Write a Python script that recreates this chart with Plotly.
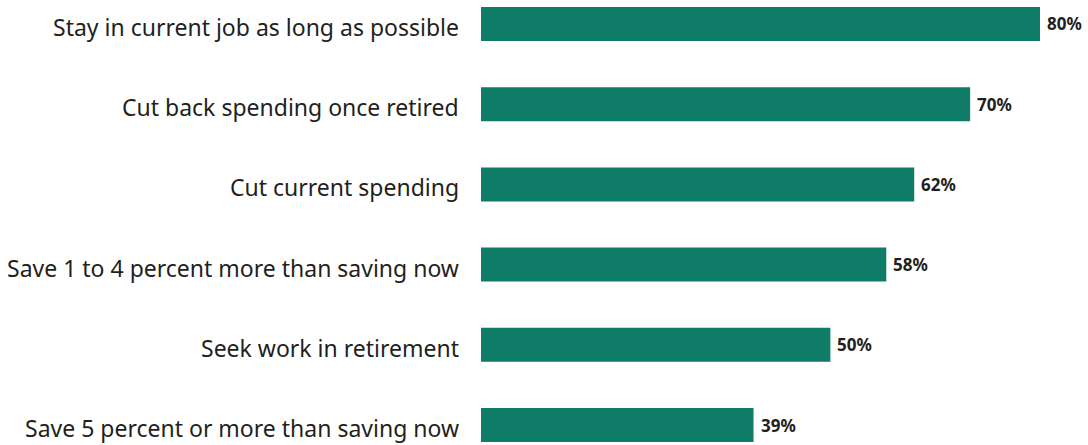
import plotly.graph_objects as go

categories = [
    "Stay in current job as long as possible",
    "Cut back spending once retired",
    "Cut current spending",
    "Save 1 to 4 percent more than saving now",
    "Seek work in retirement",
    "Save 5 percent or more than saving now",
]
values = [80, 70, 62, 58, 50, 39]
value_labels = [f"{v}%" for v in values]

BAR_COLOR = "#0e7c66"
TEXT_COLOR = "#231f20"

fig = go.Figure(
    go.Bar(
        x=values,
        y=categories,
        orientation="h",
        width=0.424,
        marker=dict(color=BAR_COLOR, line=dict(width=0)),
        hoverinfo="x+y",
    )
)

# category names, right-aligned just left of the bars
for cat in categories:
    fig.add_annotation(
        x=0, y=cat, xref="x", yref="y",
        text=cat, showarrow=False,
        xanchor="right", yanchor="middle",
        xshift=-20, yshift=-3,
        font=dict(family="Noto Sans", size=23, color=TEXT_COLOR),
    )

# value labels at the end of each bar
for cat, v, lab in zip(categories, values, value_labels):
    fig.add_annotation(
        x=v, y=cat, xref="x", yref="y",
        text=f"<b>{lab}</b>", showarrow=False,
        xanchor="left", yanchor="middle",
        xshift=5,
        font=dict(family="Noto Sans", size=17, color=TEXT_COLOR),
    )

fig.update_layout(
    width=1088,
    height=445,
    margin=dict(l=481, r=0, t=0, b=0),
    paper_bgcolor="white",
    plot_bgcolor="white",
    showlegend=False,
    xaxis=dict(range=[0, 607 / 6.9875], visible=False),
    yaxis=dict(
        type="category",
        range=[5.249, -0.299],
        showgrid=False,
        showline=False,
        zeroline=False,
        showticklabels=False,
        ticks="",
    ),
)

fig.write_html("out.html")
